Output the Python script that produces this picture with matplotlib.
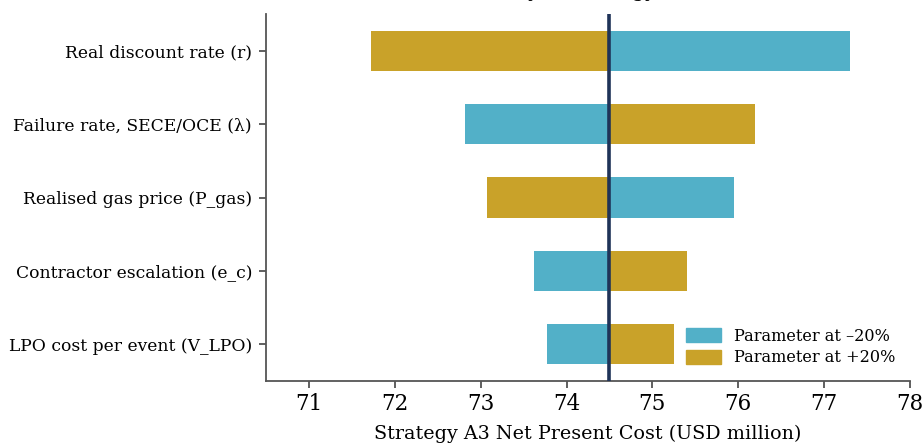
import matplotlib
matplotlib.use("Agg")
import matplotlib.pyplot as plt
from matplotlib.patches import Patch

plt.rcParams['font.family'] = ['DejaVu Serif']

params = ["Real discount rate (r)", "Failure rate, SECE/OCE (λ)",
          "Realised gas price (P_gas)", "Contractor escalation (e_c)",
          "LPO cost per event (V_LPO)"]
base = 74.5
low_vals = [77.30, 72.82, 75.95, 73.62, 73.77]    # parameter at -20%
high_vals = [71.72, 76.19, 73.07, 75.40, 75.25]   # parameter at +20%
xticks = [71, 72, 73, 74, 75, 76, 77, 78]
labels = ["Parameter at \u201320%", "Parameter at +20%"]

c_low = "#52b0c8"
c_high = "#c9a229"

fig = plt.figure(figsize=(9.24, 4.43), dpi=100)
ax = fig.add_axes([266/924, 1-381/443, (910-266)/924, (381-14)/443])

y = list(range(len(params)))
ax.barh(y, [v - base for v in low_vals], left=base, height=0.55, color=c_low)
ax.barh(y, [v - base for v in high_vals], left=base, height=0.55, color=c_high)
ax.axvline(base, color="#1f3358", lw=2.6, zorder=5)

ax.set_xlim(70.5, 78)
ax.set_ylim(4.5, -0.5)
ax.set_yticks(y)
ax.set_yticklabels(params, fontsize=12.3)
ax.set_xticks(xticks)
ax.tick_params(axis='x', labelsize=15.5, length=5, width=1.2, color="#444444")
ax.tick_params(axis='y', length=5, width=1.2, color="#444444", pad=5)
ax.set_xlabel("Strategy A3 Net Present Cost (USD million)", fontsize=13.8, labelpad=7)
for s in ["top", "right"]:
    ax.spines[s].set_visible(False)
for s in ["left", "bottom"]:
    ax.spines[s].set_color("#555555")
    ax.spines[s].set_linewidth(1.3)

handles = [Patch(color=c_low), Patch(color=c_high)]
ax.legend(handles, labels, loc="lower right", frameon=False, fontsize=11.6,
          bbox_to_anchor=(1.0, 0.0), handlelength=2.2, handleheight=0.9,
          labelspacing=0.3)

fig.text(520/924, 1 + 3/443, "Tornado sensitivity — Strategy A3", ha="center",
         va="baseline", fontsize=14)

fig.savefig("out.png", dpi=100)
